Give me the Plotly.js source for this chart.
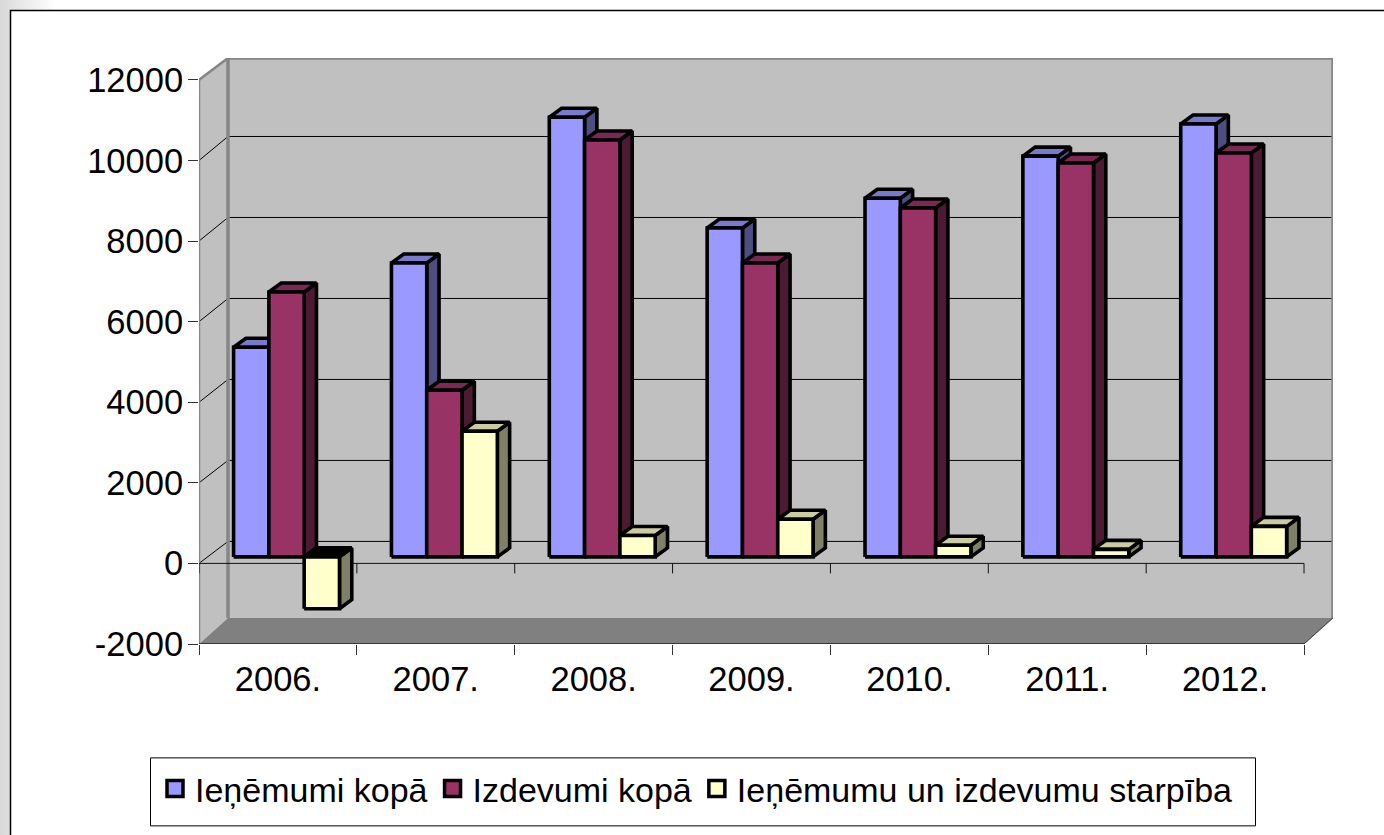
<!DOCTYPE html>
<html><head><meta charset="utf-8">
<script src="https://cdn.plot.ly/plotly-3.0.1.min.js"></script>
<style>html,body{margin:0;padding:0;width:1384px;height:835px;overflow:hidden;background:linear-gradient(to right,#d9d9d9,#ffffff 55px)}#c{width:1384px;height:835px}</style>
</head><body><div id="c"></div>
<script>
const categories = ['2006.','2007.','2008.','2009.','2010.','2011.','2012.'];
const income  = [5203, 7293, 10913, 8163, 8903, 9948, 10743];
const expense = [6573, 4138, 10348, 7293, 8658, 9778, 10023];
const balance = [-1285, 3118, 533, 933, 288, 188, 758];
const seriesNames = ['Ieņēmumi kopā','Izdevumi kopā','Ieņēmumu un izdevumu starpība'];
const yTicks = [-2000,0,2000,4000,6000,8000,10000,12000];

// pixel scale of the plot
const L=199, CAT=157.86, RIGHT=1333, TOP=58, ZERO=563.5, S=0.0403, BACK_ZERO=541.5, BACK_S=0.0405;
const BOTTOM=ZERO+2000*S;
const ux=p=>p/CAT, uy=p=>p/S;
const wallDX=ux(29);
const backY=v=>(ZERO-(BACK_ZERO-v*BACK_S))/S;   // where a value lands on the back wall
const barDX=ux(12.3), barDY=uy(9), shiftX=ux(8.6), shiftY=uy(6.5);
const barW=ux(35.3), gap=(1-3*barW)/2;
const xMax=(RIGHT-L)/CAT, yMax=(ZERO-TOP)/S, floorBack=-(618-ZERO)/S;
const nCat=categories.length;

function join(list){const x=[],y=[];list.forEach(p=>{p.forEach(q=>{x.push(q[0]);y.push(q[1])});x.push(p[0][0]);y.push(p[0][1]);x.push(null);y.push(null)});return {x,y}}
const traces=[];
function face(list,fill,line,width,name){const d=join(list);traces.push({type:'scatter',mode:'lines',x:d.x,y:d.y,fill:'toself',fillcolor:fill,line:{color:line||fill,width:width==null?3.6:width,shape:'linear'},cliponaxis:false,hoverinfo:'skip',showlegend:false,name:name||''})}
function seg(list,color,width){const x=[],y=[];list.forEach(s=>{x.push(s[0][0],s[1][0],null);y.push(s[0][1],s[1][1],null)});traces.push({type:'scatter',mode:'lines',x,y,line:{color,width},cliponaxis:false,hoverinfo:'skip',showlegend:false})}

// walls
const front12=12000;
face([[[0,front12],[wallDX,yMax],[wallDX,floorBack],[0,-2000]]],'#C0C0C0','#C0C0C0',0);
face([[[wallDX,yMax],[xMax,yMax],[xMax,floorBack],[wallDX,floorBack]]],'#C0C0C0','#C0C0C0',0);
face([[[0,-2000],[wallDX,floorBack],[xMax,floorBack],[7,-2000]]],'#808080','#808080',0);
// grid lines
const grid=[];
yTicks.filter(v=>v>-2000&&v<12000).forEach(v=>{grid.push([[0,v],[wallDX,backY(v)]]);grid.push([[wallDX,backY(v)],[xMax,backY(v)]])});
seg(grid,'#000000',1);
// wall edges
seg([[[wallDX,floorBack],[wallDX,yMax]],[[wallDX,yMax],[xMax,yMax]],[[xMax,yMax],[xMax,floorBack]]],'#868686',3.5);
seg([[[0,-2000],[0,front12]],[[0,front12],[wallDX,yMax]]],'#868686',2.5);
seg([[[7,-2000],[xMax,floorBack]]],'#333333',1);
seg([[[0,-2000],[7,-2000]]],'#222222',1.5);
// zero axis with ticks
const zeroAxis=[[[0,0],[7,0]]];
for(let i=0;i<=nCat;i++) zeroAxis.push([[i,0],[i,-uy(10)]]);
seg(zeroAxis,'#111111',1);

// bars
const series=[
 {v:income, front:'#9999FF',top:'#7A7ACC',side:'#4D4D80'},
 {v:expense,front:'#993366',top:'#7A2952',side:'#4D1A33'},
 {v:balance,front:'#FFFFCC',top:'#CCCCA3',side:'#808066'}];
series.forEach((s,k)=>{
  const tops=[],under=[],sides=[],fronts=[];
  s.v.forEach((v,i)=>{
    const x0=i+gap+k*barW+shiftX, x1=x0+barW;
    const b=shiftY, t=v+shiftY;
    const hi=Math.max(b,t), lo=Math.min(b,t);
    fronts.push([[x0,lo],[x1,lo],[x1,hi],[x0,hi]]);
    sides.push([[x1,lo],[x1+barDX,lo+barDY],[x1+barDX,hi+barDY],[x1,hi]]);
    (v<0?under:tops).push([[x0,hi],[x1,hi],[x1+barDX,hi+barDY],[x0+barDX,hi+barDY]]);
  });
  face(sides,s.side,'#000000');
  if(tops.length) face(tops,s.top,'#000000');
  if(under.length) face(under,'#000000','#000000');
  face(fronts,s.front,'#000000',3.6,seriesNames[k]);
});
// legend swatches
series.forEach((s,k)=>traces.push({type:'scatter',mode:'markers',x:[null],y:[null],name:seriesNames[k],showlegend:true,hoverinfo:'skip',marker:{symbol:'square',size:20,color:s.front,line:{color:'#000000',width:3.5}}}));

const W=RIGHT-L, H=BOTTOM-TOP;
const px=p=>(p-L)/W, py=p=>(BOTTOM-p)/H;
const font='"Liberation Sans",Arial,sans-serif';
const layout={
 width:1384,height:835,autosize:false,paper_bgcolor:'rgba(0,0,0,0)',plot_bgcolor:'rgba(0,0,0,0)',
 margin:{l:L,r:1384-RIGHT,t:TOP,b:835-BOTTOM,pad:0,autoexpand:false},
 font:{family:font,color:'#000000',size:34},
 xaxis:{range:[0,xMax],showgrid:false,zeroline:false,showline:false,fixedrange:true,
   tickmode:'array',tickvals:categories.map((c,i)=>i+0.5),ticktext:categories,ticks:'',ticklabelstandoff:11,tickfont:{size:34.5,family:font},
   minor:{tickmode:'array',tickvals:Array.from({length:nCat+1},(_,i)=>i),ticks:'outside',ticklen:10,tickwidth:1,tickcolor:'#333333',showgrid:false}},
 yaxis:{range:[-2000,yMax],showgrid:false,zeroline:false,showline:false,fixedrange:true,
   tickmode:'array',tickvals:yTicks,ticktext:yTicks.map(String),ticks:'outside',ticklen:10,tickwidth:1,tickcolor:'#333333',tickfont:{size:34.5,family:font},ticklabelstandoff:-2},
 showlegend:true,
 legend:{orientation:'h',x:px(155),xanchor:'left',y:py(760),yanchor:'top',bgcolor:'rgba(0,0,0,0)',borderwidth:0,font:{size:34,family:font,color:'#000'},itemclick:false,itemdoubleclick:false,traceorder:'normal'},
 shapes:[
  {type:'rect',xref:'paper',yref:'paper',x0:px(10.5),x1:px(1400),y0:py(10.5),y1:py(850),fillcolor:'#FFFFFF',line:{color:'#000000',width:1.5},layer:'below'},
  {type:'rect',xref:'paper',yref:'paper',x0:px(150.5),x1:px(1255.5),y0:py(758),y1:py(826),fillcolor:'#FFFFFF',line:{color:'#000000',width:1},layer:'below'}
 ]
};
Plotly.newPlot('c',traces,layout,{displayModeBar:false,staticPlot:true});
</script></body></html>
